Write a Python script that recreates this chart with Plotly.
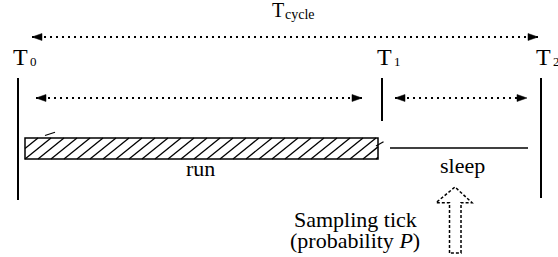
import plotly.graph_objects as go

# ---- data (time in arbitrary units, one cycle = 10) ----
phase_names = ["T", "T", "T"]
phase_subs = ["0", "1", "2"]
phase_times = [0.0, 6.96, 10.0]
segment_labels = ["run", "sleep"]
cycle_label = ["T", "cycle"]
tick_lines = ["Sampling tick", "(probability <i>P</i>)"]

W, H = 558, 257
SCALE = 52.3          # px per time unit
X_LEFT = 18           # px of T0
FONT = "'Liberation Serif', 'DejaVu Serif', serif"

t0, t1, t2 = phase_times


def xo(t, off):
    """time plus an offset given in px"""
    return t + off / SCALE


fig = go.Figure()
shapes = []
annotations = []

DOT = "2px,4px"


def arrow_head(xtip_t, y, direction):
    L, hw = 10 / SCALE, 3.5
    xb = xtip_t - direction * L
    return dict(type="path", xref="x", yref="y",
                path=f"M{xtip_t},{y} L{xb},{y - hw} L{xb},{y + hw} Z",
                fillcolor="black", line=dict(color="black", width=0.5))


def dbl_arrow(xa, xb, y):
    shapes.append(dict(type="line", xref="x", yref="y", x0=xa, x1=xb,
                       y0=y, y1=y, line=dict(color="black", width=2, dash=DOT)))
    shapes.append(arrow_head(xa, y, -1))
    shapes.append(arrow_head(xb, y, 1))


# cycle arrow
dbl_arrow(xo(t0, 14), xo(t2, -3), 37)
# run / sleep arrows
dbl_arrow(xo(t0, 18), xo(t1, -20), 98)
dbl_arrow(xo(t1, 13), xo(t2, -14), 98)

# vertical phase lines
v_bottom = [200, 121, 198]
for t, yb in zip(phase_times, v_bottom):
    shapes.append(dict(type="line", xref="x", yref="y", x0=t, x1=t, y0=78, y1=yb,
                       line=dict(color="black", width=2)))

# run bar (hatched)
bx0, bx1 = xo(t0, 7), xo(t1, -4)
by_top, by_bot = 138, 159
shapes.append(dict(type="rect", xref="x", yref="y", x0=bx0, x1=bx1, y0=by_top, y1=by_bot,
                   line=dict(color="black", width=1.5), fillcolor="rgba(0,0,0,0)"))
hx, hy = [], []
h = by_bot - by_top
dx = 26 / SCALE
sp = 13 / SCALE
a = bx0 - dx
while a < bx1:
    xs, xe = a, a + dx
    ys, ye = by_bot, by_top
    if xs < bx0:
        ys = by_bot - (bx0 - a) / dx * h
        xs = bx0
    if xe > bx1:
        ye = by_bot - (bx1 - a) / dx * h
        xe = bx1
    hx += [xs, xe, None]
    hy += [ys, ye, None]
    a += sp
fig.add_trace(go.Scatter(x=hx, y=hy, mode="lines", line=dict(color="black", width=1.3),
                         hoverinfo="skip", showlegend=False))
# stray hatch strokes
shapes.append(dict(type="line", xref="x", yref="y", x0=xo(t0, 27), x1=xo(t0, 37), y0=135.5, y1=132.3,
                   line=dict(color="black", width=1.2)))
shapes.append(dict(type="line", xref="x", yref="y", x0=xo(t1, -6), x1=xo(t1, 1.5), y0=146, y1=141.7,
                   line=dict(color="black", width=1.2)))

# sleep line
shapes.append(dict(type="line", xref="x", yref="y", x0=xo(t1, 8), x1=xo(t2, -13), y0=148, y1=148,
                   line=dict(color="black", width=1.5)))

# sampling tick dashed arrow (outline)
ax = xo(t1, 73)  # centre x of arrow


def xp(off):
    return ax + off / SCALE


path = (f"M{xp(-5.5)},253 L{xp(-5.5)},202.7 L{xp(-19)},202.7 L{xp(0)},187 "
        f"L{xp(17)},202.7 L{xp(6)},202.7 L{xp(6)},253 Z")
shapes.append(dict(type="path", xref="x", yref="y", path=path,
                   line=dict(color="black", width=1.5, dash="3px,2px"), fillcolor="rgba(0,0,0,0)"))


# ---- text ----
def txt(x, y, s, size, xanchor="center", yanchor="middle"):
    annotations.append(dict(x=x, y=y, xref="x", yref="y", text=s, showarrow=False,
                            xanchor=xanchor, yanchor=yanchor,
                            font=dict(family=FONT, size=size, color="black")))


# T labels
for name, sub, t in zip(phase_names, phase_subs, phase_times):
    txt(xo(t, -7), 72, name, 24, xanchor="left", yanchor="bottom")
    txt(xo(t, 10), 71, sub, 13, xanchor="left", yanchor="bottom")

txt(xo(t0, 252), 23, cycle_label[0], 20, xanchor="left", yanchor="bottom")
txt(xo(t0, 265), 24, cycle_label[1], 14, xanchor="left", yanchor="bottom")

txt((t0 + t1) / 2, 168, segment_labels[0], 22)
txt((t1 + t2) / 2 + 0.02, 165, segment_labels[1], 22)

txt(xo(t1, -27), 219, tick_lines[0], 22)
txt(xo(t1, -27), 240, tick_lines[1], 22)

fig.update_layout(
    width=W, height=H, margin=dict(l=0, r=0, t=0, b=0),
    paper_bgcolor="white", plot_bgcolor="white",
    xaxis=dict(range=[-X_LEFT / SCALE, (W - X_LEFT) / SCALE], visible=False, fixedrange=True),
    yaxis=dict(range=[H, 0], visible=False, fixedrange=True),
    shapes=shapes, annotations=annotations, showlegend=False,
)
fig.write_html("out.html", config={"displayModeBar": False},
               post_script="document.body.style.margin='0';")
